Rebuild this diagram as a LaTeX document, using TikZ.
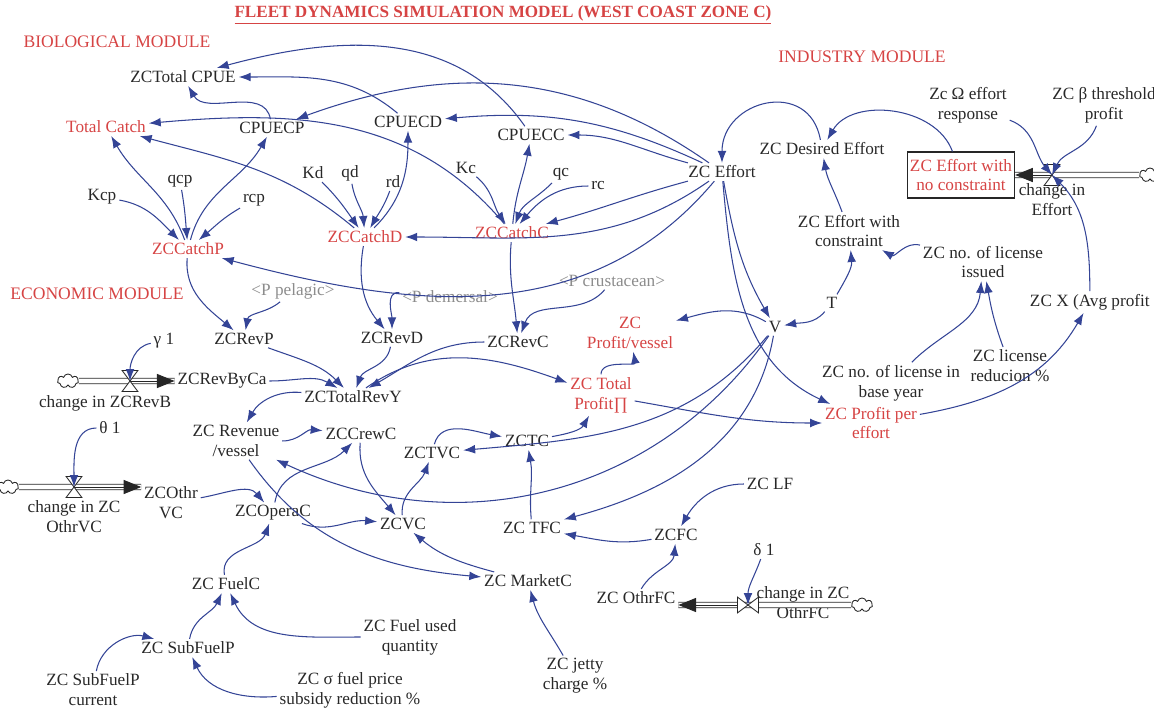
\documentclass[tikz,border=0pt]{standalone}
\usepackage{fontspec}
\setmainfont{Liberation Serif}
\usetikzlibrary{arrows.meta,shapes.symbols}

\definecolor{linkblue}{RGB}{52,68,150}
\definecolor{modred}{RGB}{214,68,68}
\definecolor{refgray}{RGB}{140,140,140}
\definecolor{txt}{RGB}{40,40,40}

\tikzset{
  var/.style={font=\fontsize{9.8}{11.3}\selectfont, text=txt, align=center, inner sep=1.5pt},
  rvar/.style={var, text=modred},
  gvar/.style={var, text=refgray},
  modlabel/.style={font=\fontsize{10}{12}\selectfont, text=modred},
  lnk/.style={draw=linkblue, line width=0.6pt, -{Latex[length=6.8pt,width=5pt]}},
  pipe/.style={draw=black!85, double=white, double distance=2.6pt, line width=0.5pt},
  flowtip/.style={black!85, line width=0.5pt, -{Triangle[length=10pt,width=8pt]}},
  valvetri/.style={fill=white, draw=black!85, line width=0.5pt},
  sky/.style={cloud, cloud puffs=7, aspect=1.6, draw=black!85, line width=0.5pt, minimum width=12pt, minimum height=8pt, inner sep=0pt}
}

\begin{document}
\begin{tikzpicture}[x=0.02cm, y=0.02cm]
\useasboundingbox (0,0) rectangle (1154,-717);

\node[font=\bfseries\fontsize{9.75}{11}\selectfont, text=modred] (title) at (503,-15) {\underline{FLEET DYNAMICS SIMULATION MODEL (WEST COAST ZONE C)}};
\node[modlabel] (biomod) at (117,-42) {BIOLOGICAL MODULE};
\node[modlabel] (indmod) at (862,-57) {INDUSTRY MODULE};
\node[modlabel] (ecomod) at (97,-294) {ECONOMIC MODULE};

% biological module
\node[var] (tcpue) at (183,-77) {ZCTotal CPUE};
\node[rvar] (tcatch) at (106,-127) {Total Catch};
\node[var] (cpuecp) at (272,-128) {CPUECP};
\node[var] (cpuecd) at (408,-122) {CPUECD};
\node[var] (cpuecc) at (531,-135) {CPUECC};
\node[var] (kcp) at (102,-197) {Kcp};
\node[var] (qcp) at (180,-181) {qcp};
\node[var] (rcp) at (254,-200) {rcp};
\node[rvar] (catchp) at (188,-249) {ZCCatchP};
\node[var] (kd) at (313,-173) {Kd};
\node[var] (qd) at (350,-173) {qd};
\node[var] (rd) at (393,-182) {rd};
\node[rvar] (catchd) at (365,-237) {ZCCatchD};
\node[var] (kc) at (466,-168) {Kc};
\node[var] (qc) at (561,-174) {qc};
\node[var] (rc) at (598,-186) {rc};
\node[rvar] (catchc) at (512,-233) {ZCCatchC};

% industry module
\node[var] (effort) at (722,-172) {ZC Effort};
\node[var] (desired) at (822,-149) {ZC Desired Effort};
\node[rvar, draw=black!85, line width=0.6pt, minimum width=94*0.02cm, minimum height=46*0.02cm] (nocons) at (961,-175) {ZC Effort with\\no constraint};
\node[var] (omega) at (968,-105) {Zc Ω effort\\response};
\node[var] (beta) at (1104,-105) {ZC β threshold\\profit};
\node[var] (chgeff) at (1052,-200) {change in\\Effort};
\coordinate (v1) at (1052,-175);
\node[sky] (sky1) at (1150,-175) {};
\node[var] (withcons) at (849,-231) {ZC Effort with\\constraint};
\node[var] (licissued) at (983,-262) {ZC no. of license\\issued};
\node[var] (T) at (832,-303) {T};
\node[var] (V) at (775,-327) {V};
\node[var, anchor=west] (avgx) at (1027,-302) {ZC X (Avg profit};
\node[var] (licbase) at (891,-383) {ZC no. of license in\\base year};
\node[var] (licred) at (1010,-366) {ZC license\\reducion \%};
\node[rvar] (profeff) at (871,-423) {ZC Profit per\\effort};

% economic module
\node[gvar] (ppel) at (293,-291) {<P pelagic>};
\node[gvar] (pdem) at (450,-297) {<P demersal>};
\node[gvar] (pcru) at (612,-281) {<P crustacean>};
\node[var] (revp) at (244,-339) {ZCRevP};
\node[var] (revd) at (392,-338) {ZCRevD};
\node[var] (revc) at (518,-342) {ZCRevC};
\node[rvar] (profves) at (630,-333) {ZC\\Profit/vessel};
\node[var] (gamma) at (164,-341) {γ 1};
\node[var] (revbyca) at (222,-381) {ZCRevByCa};
\node[var] (chgrevb) at (105,-403) {change in ZCRevB};
\coordinate (v2) at (130,-381);
\node[sky] (sky2) at (68,-381) {};
\node[var] (totrev) at (353,-397) {ZCTotalRevY};
\node[rvar] (totprof) at (601,-395) {ZC Total\\Profit∏};
\node[var] (theta) at (110,-428) {θ 1};
\node[var] (revves) at (236,-441) {ZC Revenue\\/vessel};
\node[var] (crewc) at (361,-434) {ZCCrewC};
\node[var] (tc) at (527,-441) {ZCTC};
\node[var] (tvc) at (432,-453) {ZCTVC};
\coordinate (v3) at (74,-487);
\node[sky] (sky3) at (8,-487) {};
\node[var] (chgothrvc) at (74,-517) {change in ZC\\OthrVC};
\node[var] (othrvc) at (171,-503) {ZCOthr\\VC};
\node[var] (operac) at (273,-513) {ZCOperaC};
\node[var] (vc) at (403,-524) {ZCVC};
\node[var] (tfc) at (532,-528) {ZC TFC};
\node[var] (lf) at (770,-484) {ZC LF};
\node[var] (fc) at (676,-535) {ZCFC};
\node[var] (delta) at (764,-550) {δ 1};
\node[var] (marketc) at (528,-581) {ZC MarketC};
\node[var] (othrfc) at (636,-598) {ZC OthrFC};
\coordinate (v4) at (748,-605);
\node[sky] (sky4) at (862,-605) {};
\node[var] (chgothrfc) at (803,-603) {change in ZC\\OthrFC};
\node[var] (fuelc) at (226,-584) {ZC FuelC};
\node[var] (fuelq) at (410,-637) {ZC Fuel used\\quantity};
\node[var] (subfuel) at (188,-648) {ZC SubFuelP};
\node[var] (subcur) at (93,-690) {ZC SubFuelP\\current};
\node[var] (sigma) at (350,-690) {ZC σ fuel price\\subsidy reduction \%};
\node[var] (jetty) at (575,-676) {ZC jetty\\charge \%};

% flows
\draw[pipe] (sky1) -- (nocons.east |- v1);
\draw[flowtip] (v1) -- (nocons.east |- v1);
\draw[pipe] (sky2) -- (revbyca.west);
\draw[flowtip] (v2) -- (revbyca.west);
\draw[pipe] (sky3) -- (othrvc.west |- v3);
\draw[flowtip] (v3) -- (othrvc.west |- v3);
\draw[pipe] (sky4) -- (othrfc.east |- v4);
\draw[flowtip] (v4) -- (othrfc.east |- v4);
\foreach \v in {v1,v2,v3} {
  \filldraw[valvetri] ([shift={(-4.5pt,6pt)}]\v) -- ([shift={(4.5pt,6pt)}]\v) -- (\v) -- cycle;
  \filldraw[valvetri] ([shift={(-4.5pt,-6pt)}]\v) -- ([shift={(4.5pt,-6pt)}]\v) -- (\v) -- cycle;
}
\filldraw[valvetri] ([shift={(-6pt,4.5pt)}]v4) -- ([shift={(-6pt,-4.5pt)}]v4) -- (v4) -- cycle;
\filldraw[valvetri] ([shift={(6pt,4.5pt)}]v4) -- ([shift={(6pt,-4.5pt)}]v4) -- (v4) -- cycle;

% biological links
\draw[lnk] (cpuecp) to[out=100,in=-60] (tcpue);
\draw[lnk] (cpuecd) to[out=140,in=0] (tcpue);
\draw[lnk] (cpuecc) to[out=125,in=15] (tcpue);
\draw[lnk] (effort) to[out=145,in=20] (cpuecp);
\draw[lnk] (effort) to[out=155,in=5] (cpuecd);
\draw[lnk] (effort) to[out=165,in=0] (cpuecc);
\draw[lnk] (catchp) to[out=110,in=-60] (tcatch);
\draw[lnk] (catchp) to[out=75,in=-120] (cpuecp);
\draw[lnk] (catchc) to[out=130,in=5] (tcatch);
\draw[lnk] (catchd) to[out=140,in=-15] (tcatch);
\draw[lnk] (catchd) to[out=45,in=-90] (cpuecd);
\draw[lnk] (catchc) to[out=85,in=-100] (cpuecc);
\draw[lnk] (kcp) to[out=-10,in=135] (catchp);
\draw[lnk] (qcp) to[out=-80,in=95] (catchp);
\draw[lnk] (rcp) to[out=-150,in=40] (catchp);
\draw[lnk] (kd) to[out=-45,in=125] (catchd);
\draw[lnk] (qd) to[out=-80,in=95] (catchd);
\draw[lnk] (rd) to[out=-110,in=60] (catchd);
\draw[lnk] (kc) to[out=-40,in=125] (catchc);
\draw[lnk] (qc) to[out=-135,in=70] (catchc);
\draw[lnk] (rc) to[out=180,in=50] (catchc);
\draw[lnk] (effort) to[out=-165,in=15] (catchc);
\draw[lnk] (effort) to[out=-145,in=0] (catchd);
\draw[lnk] (effort) to[out=-130,in=-15] (catchp);

% industry links
\draw[lnk] (desired) to[out=100,in=90,looseness=1.6] (effort);
\draw[lnk] (nocons) to[out=110,in=60] (desired);
\draw[lnk] (withcons) to[out=110,in=-80] (desired);
\draw[lnk] (omega) to[out=-20,in=130] (v1);
\draw[lnk] (beta) to[out=-110,in=65] (v1);
\draw[lnk] (avgx) to[out=90,in=-45] (v1);
\draw[lnk] (licissued) to[out=165,in=-30] (withcons);
\draw[lnk] (T) to[out=60,in=-85] (withcons);
\draw[lnk] (T) to[out=-130,in=10] (V);
\draw[lnk] (licbase) to[out=45,in=-95] (licissued);
\draw[lnk] (licred) to[out=110,in=-80] (licissued);
\draw[lnk] (profeff) to[out=10,in=-120] (avgx);
\draw[lnk] (effort) to[out=-80,in=120] (V);
\draw[lnk] (effort) to[out=-85,in=155] (profeff);

% economic links
\draw[lnk] (V) to[out=150,in=15] (profves);
\draw[lnk] (totprof) to[out=90,in=-80] (profves);
\draw[lnk] (totrev) to[out=35,in=160] (totprof);
\draw[lnk] (tc) to[out=10,in=-120] (totprof);
\draw[lnk] (totprof) to[out=-10,in=180] (profeff);
\draw[lnk] (V) to[out=-130,in=5] (tvc);
\draw[lnk] (V) to[out=-125,in=-25] (revves);
\draw[lnk] (V) to[out=-100,in=15] (tfc);
\draw[lnk] (revp) to[out=-20,in=135] (totrev);
\draw[lnk] (revbyca) to[out=0,in=150] (totrev);
\draw[lnk] (revd) to[out=-100,in=70] (totrev);
\draw[lnk] (revc) to[out=180,in=30] (totrev);
\draw[lnk] (catchp) to[out=-95,in=140] (revp);
\draw[lnk] (ppel) to[out=-140,in=80] (revp);
\draw[lnk] (catchd) to[out=-100,in=130] (revd);
\draw[lnk] (pdem) to[out=175,in=90] (revd);
\draw[lnk] (catchc) to[out=-95,in=95] (revc);
\draw[lnk] (pcru) to[out=-130,in=70] (revc);
\draw[lnk] (gamma) to[out=-170,in=90] (v2);
\draw[lnk] (totrev) to[out=175,in=60] (revves);
\draw[lnk] (revves) to[out=0,in=175] (crewc);
\draw[lnk] (theta) to[out=180,in=90] (v3);
\draw[lnk] (othrvc) to[out=10,in=130] (operac);
\draw[lnk] (operac) to[out=80,in=-135] (crewc);
\draw[lnk] (operac) to[out=-20,in=175] (vc);
\draw[lnk] (crewc) to[out=-95,in=130] (vc);
\draw[lnk] (vc) to[out=95,in=-110] (tvc);
\draw[lnk] (tvc) to[out=75,in=170] (tc);
\draw[lnk] (tfc) to[out=95,in=-80] (tc);
\draw[lnk] (fc) to[out=-170,in=-10] (tfc);
\draw[lnk] (lf) to[out=180,in=60] (fc);
\draw[lnk] (othrfc) to[out=60,in=-95] (fc);
\draw[lnk] (delta) to[out=-110,in=90] (v4);
\draw[lnk] (marketc) to[out=165,in=-40] (vc);
\draw[lnk] (revves) to[out=-55,in=175] (marketc);
\draw[lnk] (jetty) to[out=120,in=-75] (marketc);
\draw[lnk] (fuelc) to[out=100,in=-110] (operac);
\draw[lnk] (subfuel) to[out=80,in=-115] (fuelc);
\draw[lnk] (fuelq) to[out=180,in=-65] (fuelc);
\draw[lnk] (subcur) to[out=80,in=165] (subfuel);
\draw[lnk] (sigma) to[out=-175,in=-65] (subfuel);
\end{tikzpicture}
\end{document}
